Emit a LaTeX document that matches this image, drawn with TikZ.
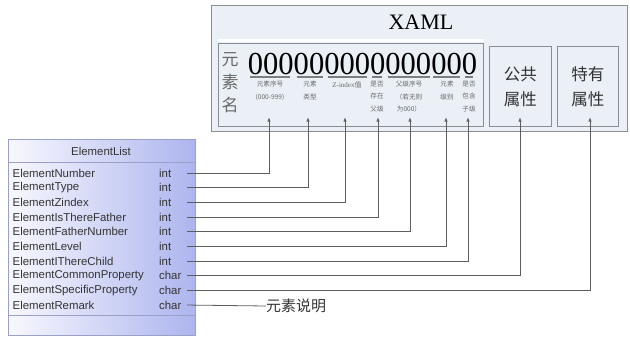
\documentclass[tikz,border=0pt]{standalone}
\usepackage{fontspec}
\setmainfont{Liberation Serif}
\setsansfont{Liberation Sans}
\newfontfamily\cjk{Noto Sans CJK SC}
\usetikzlibrary{arrows.meta}

\definecolor{panelfill}{HTML}{EAF0F6}
\definecolor{panelline}{HTML}{8A8E94}
\definecolor{labelgray}{HTML}{6A6A6A}
\definecolor{textdark}{HTML}{333333}
\definecolor{wireline}{HTML}{5E5E5E}
\definecolor{listleft}{HTML}{F8F8FE}
\definecolor{listright}{HTML}{ADB5EE}
\definecolor{listline}{HTML}{9AA0C8}

\tikzset{
  panel/.style={draw=panelline, fill=panelfill, line width=0.9pt, inner sep=0pt, anchor=north west},
  sublabel/.style={font=\cjk\fontsize{6.6}{12.3}\selectfont, text=labelgray, align=center, inner sep=0pt, anchor=north},
  digitbar/.style={draw=wireline!80, line width=1.4pt},
  fieldname/.style={font=\sffamily\fontsize{11.4}{12}\selectfont, text=textdark, anchor=west, inner sep=0pt},
  fieldtype/.style={font=\sffamily\fontsize{11.4}{12}\selectfont, text=textdark, anchor=west, inner sep=0pt},
  wire/.style={draw=wireline, line width=0.8pt},
  wirearrow/.style={wire, -{Latex[length=4.5pt,width=3.2pt]}},
  propbox/.style={font=\cjk\fontsize{16.5}{25}\selectfont, text=textdark, align=center},
}

\begin{document}
\begin{tikzpicture}[x=1pt, y=-1pt]
\useasboundingbox (0,0) rectangle (630,338);

% ---------- XAML record layout ----------
\node[panel, minimum width=416pt, minimum height=126pt] (xaml) at (211,5) {};
\node[font=\fontsize{22}{24}\selectfont] (title) at (421,22) {XAML};

\node[panel, minimum width=265pt, minimum height=83pt] (code) at (218,43) {};
\draw[white, line width=2.6pt] (218,40.5) -- (484,40.5);
\node[panel, minimum width=62pt, minimum height=80pt] (common) at (489,46) {};
\node[panel, minimum width=61pt, minimum height=80pt] (special) at (557,46) {};
\node[propbox] (commontext) at (common.center) {公共\\属性};
\node[propbox] (specialtext) at (special.center) {特有\\属性};

% element-name caption
\node[font=\cjk\fontsize{17}{23}\selectfont, text=labelgray, align=center, inner sep=0pt] (ename) at (230,83) {元\\素\\名};

% the fifteen code digits
\node[font=\fontsize{32}{34}\selectfont, xscale=0.955, inner sep=0pt] (digits) at (362.5,64) {000000000000000};

% digit groups
\draw[digitbar] (250,77) -- (290,77);
\draw[digitbar] (297,77) -- (323,77);
\draw[digitbar] (328,77) -- (367,77);
\draw[digitbar] (372,77) -- (382,77);
\draw[digitbar] (388,77) -- (430,77);
\draw[digitbar] (433,77) -- (460,77);
\draw[digitbar] (465,77) -- (473,77);

\node[sublabel] (g1) at (270,81) {元素序号\\(000-999)};
\node[sublabel] (g2) at (310,81) {元素\\类型};
\node[sublabel, font=\fontsize{7}{12}\selectfont] (g3) at (347,81) {Z-index{\cjk 值}};
\node[sublabel] (g4) at (377,81) {是否\\存在\\父级};
\node[sublabel] (g5) at (409,81) {父级序号\\（若无则\\为000）};
\node[sublabel] (g6) at (447,81) {元素\\级别};
\node[sublabel] (g7) at (469,81) {是否\\包含\\子级};

% arrow targets inside the layout
\coordinate (a1) at (269,117);
\coordinate (a2) at (308,117);
\coordinate (a3) at (345,117);
\coordinate (a4) at (378,117);
\coordinate (a5) at (410,117);
\coordinate (a6) at (446,117);
\coordinate (a7) at (468,117);
\coordinate (a8) at (520,117);
\coordinate (a9) at (590,117);

% ---------- ElementList table ----------
\shade[left color=listleft, right color=listright] (8,139) rectangle (195,335);
\node[draw=listline, line width=0.8pt, inner sep=0pt, minimum width=187pt, minimum height=196pt, anchor=north west] (list) at (8,139) {};
\draw[listline, line width=0.8pt] (8,162) -- (195,162);
\draw[listline, line width=0.8pt] (8,315) -- (195,315);
\node[font=\sffamily\fontsize{11.4}{12}\selectfont, text=textdark] (listname) at (101,151) {ElementList};

\foreach \i/\name/\type in {
  1/ElementNumber/int,
  2/ElementType/int,
  3/ElementZindex/int,
  4/ElementIsThereFather/int,
  5/ElementFatherNumber/int,
  6/ElementLevel/int,
  7/ElementIThereChild/int,
  8/ElementCommonProperty/char,
  9/ElementSpecificProperty/char,
  10/ElementRemark/char} {
  \node[fieldname] (f\i) at (12.5,{173+14.67*(\i-1)}) {\name};
  \node[fieldtype] (t\i) at (159,{173+14.67*(\i-1)}) {\type};
  \coordinate (r\i) at (187,{173+14.67*(\i-1)});
}

% ---------- connectors ----------
\foreach \i in {1,...,9} {
  \draw[wirearrow] (r\i) -| (a\i);
}

\node[font=\cjk\fontsize{15}{17}\selectfont, text=textdark, anchor=west, inner sep=0pt] (remark) at (266,306) {元素说明};
\draw[wire] (r10) -- (remark.west);

\end{tikzpicture}
\end{document}
